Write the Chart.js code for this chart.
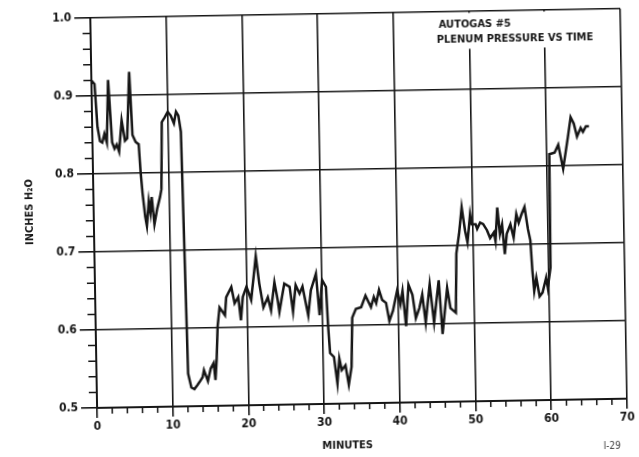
<!DOCTYPE html>
<html>
<head>
<meta charset="utf-8">
<script src="https://cdn.jsdelivr.net/npm/chart.js@4.4.0/dist/chart.umd.min.js"></script>
<style>
  html, body { margin: 0; padding: 0; background: #fff; overflow: hidden; }
  /* the source page was scanned about a degree off square */
  #myChart { display: block; transform: rotate(-1deg); }
</style>
</head>
<body>
<canvas id="myChart" width="639" height="457"></canvas>
<script>
// plenum pressure readings
const minutes = [
  0.0, 0.4, 0.7, 1.0, 1.3, 1.6, 1.9, 2.2, 2.6, 2.9, 3.2, 3.5, 3.9, 4.3, 4.6, 5.0, 5.3, 5.7, 6.1, 6.3,
  6.5, 6.8, 7.0, 7.3, 7.5, 7.7, 8.0, 8.4, 8.8, 9.0, 9.2, 9.6, 10.0, 10.4, 10.8, 11.1, 11.4, 11.7,
  12.1, 12.5, 12.9, 13.3, 13.6, 14.0, 14.2, 14.7, 15.1, 15.5, 15.7, 15.9,
  16.1, 16.4, 17.1, 17.3, 18.0, 18.4, 18.9, 19.2, 19.5, 20.0, 20.4, 20.6, 21.3, 21.7, 22.2,
  22.8, 23.2, 23.7, 24.1, 24.3, 25.0, 25.7, 26.1, 26.5, 27.0, 27.4, 28.1, 28.5, 29.2, 29.6, 30.0, 30.5,
  30.7, 30.9, 31.4, 31.8, 32.1, 32.4, 32.9, 33.3, 33.7,
  33.9, 34.4, 35.1, 35.7, 36.4, 36.8, 37.1, 37.5, 37.9, 38.4, 38.8, 39.3, 39.9, 40.3, 40.6, 41.0,
  41.4, 41.9, 42.3, 42.8, 43.2, 43.6, 44.2, 44.7, 45.4, 45.8, 46.5, 46.9, 47.6,
  47.8, 48.2, 48.6, 49.0, 49.3, 49.7, 49.9, 50.4, 50.6, 51.0, 51.4, 51.9, 52.3, 52.8, 53.0, 53.3,
  53.6, 53.9, 54.2, 54.5, 55.0, 55.4, 55.8, 56.1, 56.5, 56.9, 57.3, 57.6,
  57.8, 58.0, 58.3, 58.7, 59.1, 59.6, 59.8, 60.2,
  60.3, 61.0, 61.5, 62.1, 62.8, 63.2, 63.6, 64.0, 64.5, 64.8, 65.2, 65.6
]
const pressure = [
  0.920, 0.915, 0.860, 0.842, 0.840, 0.851, 0.840, 0.920, 0.840, 0.832, 0.837, 0.828, 0.868, 0.842, 0.845, 0.930, 0.849, 0.840, 0.837, 0.800,
  0.774, 0.744, 0.732, 0.764, 0.749, 0.769, 0.734, 0.754, 0.769, 0.779, 0.865, 0.871, 0.878, 0.873, 0.863, 0.878, 0.873, 0.852,
  0.542, 0.524, 0.522, 0.527, 0.531, 0.537, 0.546, 0.532, 0.548, 0.555, 0.533, 0.559,
  0.601, 0.626, 0.616, 0.639, 0.652, 0.631, 0.639, 0.609, 0.639, 0.652, 0.641, 0.635, 0.691, 0.656, 0.625,
  0.638, 0.621, 0.657, 0.634, 0.619, 0.655, 0.651, 0.619, 0.653, 0.642, 0.651, 0.614, 0.646, 0.667, 0.614, 0.659, 0.650,
  0.599, 0.565, 0.560, 0.526, 0.558, 0.543, 0.549, 0.524, 0.547,
  0.610, 0.621, 0.623, 0.638, 0.623, 0.636, 0.628, 0.645, 0.632, 0.628, 0.605, 0.618, 0.644, 0.626, 0.643, 0.598,
  0.651, 0.638, 0.608, 0.621, 0.638, 0.602, 0.651, 0.602, 0.656, 0.587, 0.646, 0.620, 0.614,
  0.690, 0.715, 0.749, 0.719, 0.704, 0.740, 0.727, 0.727, 0.721, 0.729, 0.727, 0.719, 0.709, 0.716, 0.705, 0.748,
  0.714, 0.726, 0.688, 0.714, 0.726, 0.709, 0.739, 0.728, 0.739, 0.748, 0.720, 0.705,
  0.666, 0.640, 0.657, 0.633, 0.638, 0.657, 0.644, 0.670,
  0.815, 0.817, 0.827, 0.796, 0.837, 0.862, 0.854, 0.837, 0.848, 0.843, 0.850, 0.850
]

const xTickLabels = ['0', '10', '20', '30', '40', '50', '60', '70']
const yTickLabels = ['0.5', '0.6', '0.7', '0.8', '0.9', '1.0']
const titleLines = ['AUTOGAS #5', 'PLENUM PRESSURE VS TIME']
const xTitle = 'MINUTES'
const yTitle = 'INCHES H\u2082O'
const pageNumber = 'I-29'

const INK = '#161616'
const FONT = "'Liberation Sans Narrow', 'DejaVu Sans Condensed', 'Liberation Sans', sans-serif"

// small ticks every 2 minutes and every 0.02 in.
const minorTicks = {
  id: 'minorTicks',
  afterDatasetsDraw(chart) {
    const { ctx, chartArea, scales: { x, y } } = chart
    ctx.save()
    ctx.strokeStyle = INK
    ctx.lineWidth = 1.5
    ctx.beginPath()
    for (let m = 2; m < 70; m += 2) {
      if (m % 10 === 0) continue
      const px = x.getPixelForValue(m)
      ctx.moveTo(px, chartArea.bottom)
      ctx.lineTo(px, chartArea.bottom + 6)
    }
    for (let k = 1; k < 25; k++) {
      if (k % 5 === 0) continue
      const py = y.getPixelForValue(0.5 + k * 0.02)
      ctx.moveTo(chartArea.left, py)
      ctx.lineTo(chartArea.left - 8, py)
    }
    ctx.stroke()
    ctx.restore()
  }
}

// title block + axis captions, drawn as plain text
const captions = {
  id: 'captions',
  beforeDatasetsDraw(chart) {
    const { ctx, chartArea, scales: { x, y } } = chart
    ctx.save()
    // the title sits on a clear patch, grid lines stop under it
    const bx0 = x.getPixelForValue(45.2)
    const bx1 = x.getPixelForValue(66.6)
    const by1 = y.getPixelForValue(0.952)
    ctx.fillStyle = '#fff'
    ctx.fillRect(bx0, chartArea.top + 1.5, bx1 - bx0, by1 - chartArea.top - 1.5)

    ctx.fillStyle = INK
    ctx.textBaseline = 'middle'
    ctx.textAlign = 'left'
    ctx.font = 'bold 11px ' + FONT
    ctx.fillText(titleLines[0], x.getPixelForValue(46.0), y.getPixelForValue(0.983))
    ctx.fillText(titleLines[1], x.getPixelForValue(45.7), y.getPixelForValue(0.964))
    ctx.restore()
  },
  afterDraw(chart) {
    const { ctx, chartArea, scales: { x } } = chart
    ctx.save()
    ctx.fillStyle = INK
    ctx.textBaseline = 'middle'
    ctx.textAlign = 'center'
    ctx.font = 'bold 11px ' + FONT
    ctx.fillText(xTitle, x.getPixelForValue(33), chartArea.bottom + 42)

    ctx.translate(30, 207)
    ctx.rotate(-Math.PI / 2)
    ctx.fillText(yTitle, 0, 0)
    ctx.restore()

    ctx.save()
    ctx.fillStyle = '#444'
    ctx.font = '10px ' + FONT
    ctx.textAlign = 'right'
    ctx.textBaseline = 'middle'
    ctx.fillText(pageNumber, chart.width - 22, chartArea.bottom + 47)
    ctx.restore()
  }
}

const ctx = document.getElementById('myChart').getContext('2d')

const myChart = new Chart(ctx, {
  type: 'line',
  data: {
    datasets: [{
      label: 'Plenum pressure',
      data: minutes.map((m, i) => ({ x: m, y: pressure[i] })),
      borderColor: INK,
      borderWidth: 2.5,
      pointRadius: 0,
      tension: 0,
      fill: false
    }]
  },
  options: {
    responsive: false,
    animation: false,
    layout: {
      padding: { left: 0, top: 14, right: 15, bottom: 0 }
    },
    plugins: {
      legend: { display: false },
      tooltip: { enabled: false }
    },
    scales: {
      x: {
        type: 'linear',
        min: 0,
        max: 70,
        afterFit: (scale) => { scale.height = 53 },
        grid: {
          color: INK,
          lineWidth: 1.6,
          tickLength: 10
        },
        border: { color: INK, width: 2 },
        ticks: {
          stepSize: 10,
          autoSkip: false,
          maxRotation: 0,
          padding: 2,
          color: INK,
          font: { family: FONT, size: 12, weight: 'bold' },
          callback: (v, i) => xTickLabels[i]
        }
      },
      y: {
        min: 0.5,
        max: 1.0,
        afterFit: (scale) => { scale.width = 94 },
        grid: {
          color: INK,
          lineWidth: 1.6,
          tickLength: 16
        },
        border: { color: INK, width: 2 },
        ticks: {
          stepSize: 0.1,
          autoSkip: false,
          padding: 3,
          color: INK,
          font: { family: FONT, size: 12, weight: 'bold' },
          callback: (v, i) => yTickLabels[i]
        }
      }
    }
  },
  plugins: [minorTicks, captions]
})
</script>
</body>
</html>
